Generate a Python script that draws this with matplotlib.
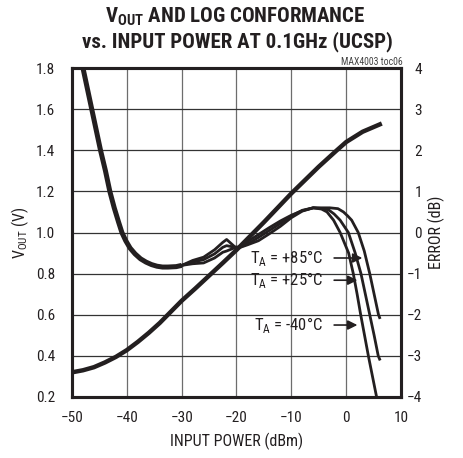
import matplotlib
matplotlib.use("Agg")
import matplotlib.pyplot as plt

plt.rcParams['font.family'] = ['Roboto Condensed', 'DejaVu Sans']
plt.rcParams['mathtext.fontset'] = 'custom'

# VOUT vs input power (all three temperatures overlap)
vout_x = [-50, -48, -46, -44, -42, -40, -38, -36, -34, -32, -30, -27.5, -25, -22.5, -20, -15, -10, -5, -1.7, 0, 3, 6.5]
vout_y = [0.32, 0.33, 0.345, 0.368, 0.395, 0.428, 0.468, 0.512, 0.56, 0.614, 0.668, 0.728, 0.79, 0.852, 0.915,
          1.05, 1.19, 1.32, 1.40, 1.44, 1.49, 1.53]

# log conformance error (dB), common steep part at low power
err_head_x = [-48.0, -47.2, -46.4, -45.6, -44.8, -43.9, -43.1, -42.3, -41.5, -40.9, -40.2, -39.4, -38.5, -37.5,
              -36.5, -35.5, -34.5, -33.5, -32.5, -31, -30]
err_head_y = [4.0, 3.5, 3.0, 2.5, 2.0, 1.5, 1.0, 0.6, 0.25, 0.0, -0.2, -0.38, -0.52, -0.64,
              -0.72, -0.78, -0.82, -0.84, -0.84, -0.83, -0.8]

# middle section, one list per temperature
err_mid_x = [-28, -26, -24, -22.5, -21.8, -20.3, -19.5, -18, -16, -14, -12, -10, -8, -6]
err_mid_m40 = [-0.68, -0.6, -0.42, -0.24, -0.17, -0.35, -0.36, -0.22, -0.05, 0.12, 0.28, 0.42, 0.53, 0.6]
err_mid_p25 = [-0.72, -0.66, -0.52, -0.36, -0.32, -0.36, -0.36, -0.28, -0.12, 0.05, 0.22, 0.40, 0.54, 0.6]
err_mid_p85 = [-0.76, -0.74, -0.62, -0.48, -0.45, -0.37, -0.37, -0.30, -0.20, -0.03, 0.15, 0.36, 0.52, 0.6]

# high power roll-off
tail_m40_x = [-4.5, -3.5, -2.3, -1.1, 0.45, 1.3, 2.0, 2.65, 3.35, 4.05, 4.8, 5.55]
tail_m40_y = [0.57, 0.5, 0.3, 0.0, -0.5, -1.0, -1.5, -2.0, -2.5, -3.0, -3.5, -4.0]
tail_p25_x = [-4.0, -3.2, -2.2, -1.1, 0.4, 1.65, 2.7, 3.5, 4.3, 5.1, 5.85, 6.1]
tail_p25_y = [0.58, 0.55, 0.45, 0.3, 0.0, -0.5, -1.0, -1.5, -2.0, -2.5, -3.0, -3.08]
tail_p85_x = [-3.0, -1.5, -0.5, 0.3, 1.0, 2.2, 3.3, 4.3, 5.1, 5.9, 6.1]
tail_p85_y = [0.6, 0.58, 0.5, 0.4, 0.3, 0.0, -0.45, -1.0, -1.5, -2.0, -2.07]

labels = [r'T$_\mathregular{A}$ = +85°C', r'T$_\mathregular{A}$ = +25°C', r'T$_\mathregular{A}$ = -40°C']
label_y = [-0.62, -1.16, -2.25]
arrow_tip = [3.45, 2.55, 2.55]

ink = '#231f20'

fig = plt.figure(figsize=(4.64, 4.58), dpi=100)
ax = fig.add_axes([72/464, 61/458, 329/464, 329/458])
ax.set_xlim(-50, 10)
ax.set_ylim(0.2, 1.8)
ax.set_xticks(range(-50, 11, 10))
ax.set_yticks([0.2, 0.4, 0.6, 0.8, 1.0, 1.2, 1.4, 1.6, 1.8])
ax.set_yticklabels(['0.2', '0.4', '0.6', '0.8', '1.0', '1.2', '1.4', '1.6', '1.8'])
for x in range(-40, 10, 10):
    ax.axvline(x, color='#6d6d6d', lw=0.9, zorder=0)
for y in [0.4, 0.6, 0.8, 1.0, 1.2, 1.4, 1.6]:
    ax.axhline(y, color='#333333', lw=0.9, zorder=0)
ax.tick_params(length=0, labelsize=11, colors=ink)
ax.tick_params(axis='y', pad=12)
ax.tick_params(axis='x', pad=10)
ax.plot(vout_x, vout_y, color=ink, lw=3.2, solid_capstyle='butt', solid_joinstyle='round')
ax.set_xlabel('INPUT POWER (dBm)', fontsize=11.5, color=ink, labelpad=6)
ax.set_ylabel(r'V$_\mathregular{OUT}$ (V)', fontsize=11.5, color=ink, labelpad=4)

ax2 = ax.twinx()
ax2.set_ylim(-4, 4)
ax2.set_yticks(range(-4, 5))
ax2.tick_params(length=0, labelsize=11, colors=ink, pad=15)
for t in ax2.get_yticklabels():
    t.set_ha('right')
ax2.set_ylabel('ERROR (dB)', fontsize=11.5, color=ink, labelpad=4)

# the three curves lie on top of each other at low power: looks thicker there
ax2.plot(err_head_x, err_head_y, color=ink, lw=3.6, solid_capstyle='butt', solid_joinstyle='round')
for mid, tx, ty in [(err_mid_m40, tail_m40_x, tail_m40_y),
                    (err_mid_p25, tail_p25_x, tail_p25_y),
                    (err_mid_p85, tail_p85_x, tail_p85_y)]:
    ax2.plot(err_head_x[-2:] + err_mid_x + tx, err_head_y[-2:] + mid + ty, color=ink, lw=2.0,
             solid_joinstyle='round')

for lab, ly, tip in zip(labels, label_y, arrow_tip):
    ax2.text(-4.2, ly, lab, ha='right', va='center', fontsize=12, color=ink)
    ax2.annotate('', xy=(tip, ly), xytext=(-2.7, ly),
                 arrowprops=dict(arrowstyle='-|>', color=ink, lw=1.2, mutation_scale=14))

for a in (ax, ax2):
    for s in a.spines.values():
        s.set_linewidth(2.2)
        s.set_color(ink)

fig.text(235/464, 1 - 17/458, r'V$_\mathregular{OUT}$ AND LOG CONFORMANCE', ha='center', va='center',
         fontsize=15, fontweight='black', color=ink)
fig.text(237/464, 1 - 42/458, 'vs. INPUT POWER AT 0.1GHz (UCSP)', ha='center', va='center',
         fontsize=15, fontweight='black', color=ink)
fig.text(403/464, 1 - 62/458, 'MAX4003 toc06', ha='right', va='center', fontsize=7, color='#444444')

fig.savefig('out.png', dpi=100)
